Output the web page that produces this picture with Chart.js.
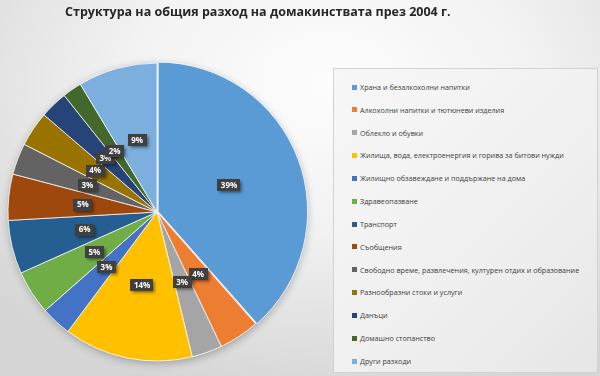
<!DOCTYPE html>
<html lang="bg">
<head>
<meta charset="UTF-8">
<title>Структура на общия разход на домакинствата през 2004 г.</title>
<script src="https://cdn.jsdelivr.net/npm/chart.js"></script>
<style>
    body { margin: 0; padding: 0; }
    .wrap {
        position: relative;
        width: 600px;
        height: 376px;
        overflow: hidden;
        font-family: "Open Sans", sans-serif;
        background: radial-gradient(ellipse 75% 85% at 55% 22%, #fdfdfd 0%, #f2f2f2 45%, #d5d5d5 100%);
    }
    #pie { position: absolute; left: 0; top: 0; }
    .title {
        position: absolute;
        left: 65px;
        top: 3px;
        font-size: 12.5px;
        font-weight: bold;
        color: #262626;
        white-space: nowrap;
    }
    .legend {
        position: absolute;
        left: 333px;
        top: 68px;
        width: 265px;
        height: 305px;
        box-sizing: border-box;
        border: 1px solid #d2d2d2;
        background: linear-gradient(135deg, #f7f7f7 0%, #efefef 60%, #e6e6e6 100%);
    }
    .legend ul { list-style: none; margin: 0; padding: 7px 0 0 18px; }
    .legend li {
        height: 22.83px;
        line-height: 22.83px;
        font-size: 7.2px;
        color: #404040;
        white-space: nowrap;
    }
    .legend li span {
        display: inline-block;
        width: 5px;
        height: 5px;
        margin-right: 3px;
        vertical-align: middle;
        position: relative;
        top: -1px;
    }
</style>
</head>
<body>
<div class="wrap">
    <canvas id="pie" width="600" height="376"></canvas>
    <div class="title">Структура на общия разход на домакинствата през 2004 г.</div>
    <div class="legend"><ul id="legendList"></ul></div>
</div>

<script>
    const categories = [
        'Храна и безалкохолни напитки',
        'Алкохолни напитки и тютюневи изделия',
        'Облекло и обувки',
        'Жилища, вода, електроенергия и горива за битови нужди',
        'Жилищно обзавеждане и поддържане на дома',
        'Здравеопазване',
        'Транспорт',
        'Съобщения',
        'Свободно време, развлечения, културен отдих и образование',
        'Разнообразни стоки и услуги',
        'Данъци',
        'Домашно стопанство',
        'Други разходи'
    ];
    // дял в проценти (отчетени от графиката)
    const shares = [38.5, 4.4, 3.3, 14.0, 3.3, 4.8, 5.8, 5.0, 3.4, 3.8, 3.0, 2.1, 8.6];
    const colors = ['#5B9BD5', '#ED7D31', '#A5A5A5', '#FFC000', '#4472C4', '#70AD47',
                    '#255E91', '#9E480E', '#636363', '#997300', '#264478', '#43682B', '#7CAFDD'];

    // мека сянка под кръга
    const pieShadow = {
        id: 'pieShadow',
        beforeDatasetsDraw(chart) {
            const arc = chart.getDatasetMeta(0).data[1];
            if (!arc) return;
            const ctx = chart.ctx;
            ctx.save();
            ctx.shadowColor = 'rgba(0,0,0,0.3)';
            ctx.shadowBlur = 8;
            ctx.shadowOffsetX = 1;
            ctx.shadowOffsetY = 2;
            ctx.fillStyle = '#e0e0e0';
            ctx.beginPath();
            ctx.arc(arc.x, arc.y, arc.outerRadius, 0, Math.PI * 2);
            ctx.fill();
            ctx.restore();
        }
    };

    // тъмни етикети с процентите
    const labelBoxes = {
        id: 'labelBoxes',
        afterDatasetsDraw(chart) {
            const ctx = chart.ctx;
            const meta = chart.getDatasetMeta(0);
            ctx.save();
            ctx.font = 'bold 8px "Open Sans", sans-serif';
            ctx.textAlign = 'center';
            ctx.textBaseline = 'middle';
            meta.data.forEach((arc, i) => {
                const p = arc.tooltipPosition();
                const txt = Math.round(shares[i]) + '%';
                const w = ctx.measureText(txt).width + 7;
                const h = 12;
                ctx.shadowColor = 'rgba(0,0,0,0.5)';
                ctx.shadowBlur = 3;
                ctx.shadowOffsetX = 1.5;
                ctx.shadowOffsetY = 1.5;
                ctx.fillStyle = '#404040';
                ctx.fillRect(Math.round(p.x - w / 2), Math.round(p.y - h / 2), Math.round(w), h);
                ctx.shadowColor = 'transparent';
                ctx.fillStyle = '#ffffff';
                ctx.fillText(txt, p.x, p.y + 0.5);
            });
            ctx.restore();
        }
    };

    const chart = new Chart(document.getElementById('pie'), {
        type: 'pie',
        data: {
            labels: categories,
            datasets: [{
                data: shares,
                backgroundColor: colors,
                borderColor: 'rgba(255,255,255,0.75)',
                borderWidth: 1,
                offset: [5, 0, 0, 0, 0, 0, 0, 0, 0, 0, 0, 0, 0]
            }]
        },
        options: {
            responsive: false,
            animation: false,
            layout: { padding: { left: 5, right: 291, top: 60, bottom: 12 } },
            plugins: {
                legend: { display: false },
                tooltip: { enabled: false }
            }
        },
        plugins: [pieShadow, labelBoxes]
    });

    // легенда от данните на графиката
    const items = chart.options.plugins.legend.labels.generateLabels(chart);
    const list = document.getElementById('legendList');
    items.forEach(item => {
        const li = document.createElement('li');
        const box = document.createElement('span');
        box.style.background = item.fillStyle;
        li.appendChild(box);
        li.appendChild(document.createTextNode(item.text));
        list.appendChild(li);
    });
</script>
</body>
</html>
